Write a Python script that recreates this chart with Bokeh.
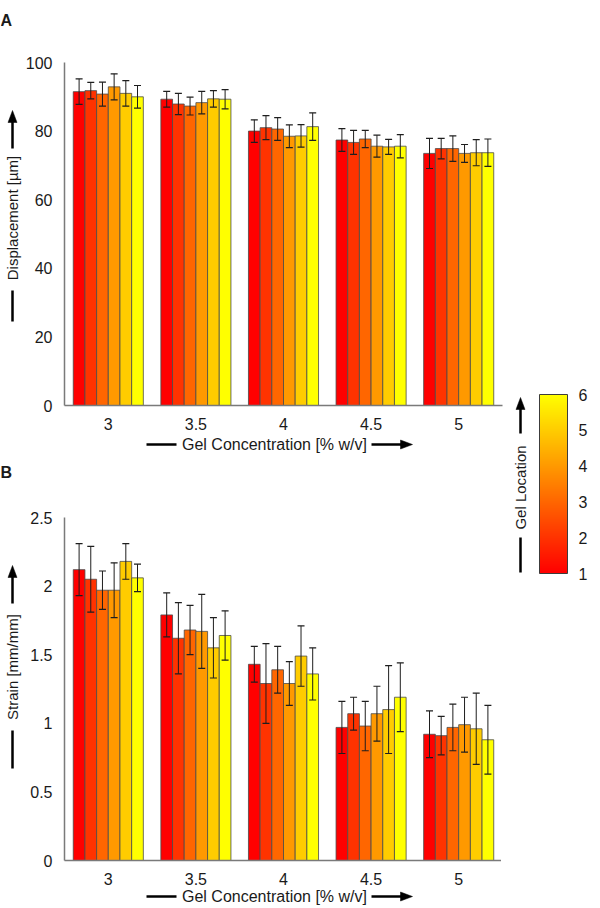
import math
from bokeh.plotting import figure
from bokeh.models import (ColumnDataSource, FactorRange, Range1d, FixedTicker,
                          NumeralTickFormatter, Whisker, TeeHead, ColorBar,
                          LinearColorMapper)
from bokeh.transform import dodge
from bokeh.layouts import row, column
from bokeh.core.properties import value
from bokeh.embed import file_html
from bokeh.resources import INLINE

# ---------------- data ----------------
conc = ["3", "3.5", "4", "4.5", "5"]          # gel concentration [% w/v]
locations = [1, 2, 3, 4, 5, 6]                 # gel location

disp_loc1 = [91.5, 89.3, 80.0, 77.4, 73.5]
disp_loc2 = [91.8, 87.9, 81.0, 76.7, 74.9]
disp_loc3 = [90.8, 87.3, 80.6, 77.7, 74.9]
disp_loc4 = [92.9, 88.3, 78.5, 75.6, 73.5]
disp_loc5 = [91.0, 89.4, 78.6, 75.4, 73.7]
disp_loc6 = [90.0, 89.3, 81.3, 75.6, 73.7]
disp_err1 = [3.7, 2.3, 3.3, 3.3, 4.4]
disp_err2 = [2.4, 3.1, 3.5, 3.5, 3.0]
disp_err3 = [3.5, 2.6, 3.3, 2.5, 3.7]
disp_err4 = [3.8, 3.3, 3.3, 3.2, 2.6]
disp_err5 = [3.7, 2.4, 3.3, 2.2, 3.8]
disp_err6 = [3.3, 2.8, 4.0, 3.4, 4.0]

strain_loc1 = [2.12, 1.79, 1.43, 0.97, 0.92]
strain_loc2 = [2.05, 1.62, 1.29, 1.07, 0.91]
strain_loc3 = [1.97, 1.68, 1.39, 0.98, 0.97]
strain_loc4 = [1.97, 1.67, 1.29, 1.07, 0.99]
strain_loc5 = [2.18, 1.55, 1.49, 1.10, 0.96]
strain_loc6 = [2.06, 1.64, 1.36, 1.19, 0.88]
strain_err1 = [0.19, 0.16, 0.13, 0.19, 0.17]
strain_err2 = [0.24, 0.26, 0.29, 0.12, 0.14]
strain_err3 = [0.14, 0.18, 0.17, 0.18, 0.17]
strain_err4 = [0.20, 0.27, 0.16, 0.20, 0.20]
strain_err5 = [0.13, 0.22, 0.22, 0.32, 0.26]
strain_err6 = [0.10, 0.18, 0.19, 0.25, 0.25]

disp_ticks = [0, 20, 40, 60, 80, 100]
strain_ticks = [0, 0.5, 1, 1.5, 2, 2.5]
cb_ticks = [1, 2, 3, 4, 5, 6]

# ---------------- style ----------------
FONT = "Liberation Sans"
TXT = "#1a1a1a"
loc_colors = ["#ff0000", "#ff3300", "#ff6600", "#ff9900", "#ffcc00", "#ffff00"]
autumn = ["#ff%02x00" % i for i in range(256)]

TOTAL_H = 905
BL, FW, BR = 36, 438, 4          # chart borders / frame width


def bar_chart(vals, errs, y_end, y_ticks, border_top):
    data = {"conc": conc}
    for i, (v, e) in enumerate(zip(vals, errs)):
        data[f"v{i}"] = v
        data[f"hi{i}"] = [a + b for a, b in zip(v, e)]
        data[f"lo{i}"] = [a - b for a, b in zip(v, e)]
    src = ColumnDataSource(data)
    p = figure(x_range=FactorRange(*conc), y_range=Range1d(0, y_end),
               frame_width=FW, frame_height=343,
               min_border_left=BL, min_border_right=BR,
               min_border_top=border_top, min_border_bottom=26,
               output_backend="svg", toolbar_location=None, tools="", title=None)
    n = len(vals)
    group = 0.8
    bw = group / n
    for i in range(n):
        off = -group / 2 + bw * (i + 0.5)
        p.vbar(x=dodge("conc", off, range=p.x_range), top=f"v{i}", width=bw,
               source=src, fill_color=loc_colors[i], line_color="#4a4a4a",
               line_width=0.8)
        w = Whisker(source=src, base=dodge("conc", off, range=p.x_range),
                    upper=f"hi{i}", lower=f"lo{i}", line_color="#1e1e1e",
                    line_width=1, level="overlay",
                    upper_head=TeeHead(size=7, line_color="#1e1e1e", line_width=1.2),
                    lower_head=TeeHead(size=7, line_color="#1e1e1e", line_width=1.2))
        p.add_layout(w)
    p.xgrid.visible = False
    p.ygrid.visible = False
    p.outline_line_color = None
    p.yaxis.ticker = FixedTicker(ticks=y_ticks)
    p.yaxis.formatter = NumeralTickFormatter(format="0.[0]")
    for ax in p.axis:
        ax.axis_line_color = "#7a7a7a"
        ax.axis_line_width = 1.5
        ax.major_tick_line_color = None
        ax.minor_tick_line_color = None
        ax.major_label_text_font = FONT
        ax.major_label_text_font_size = "16px"
        ax.major_label_text_color = TXT
        ax.major_label_standoff = 6
    return p


def deco_fig(w, h):
    # whole canvas is the frame; coordinates are pixels from the top-left
    p = figure(width=w, height=h, x_range=Range1d(0, w), y_range=Range1d(h, 0),
               min_border=0, x_axis_type=None, y_axis_type=None,
               output_backend="svg", toolbar_location=None, tools="", title=None)
    p.outline_line_color = None
    return p


def xlab_fig(h):
    # same horizontal borders as the charts, so frame alignment is a no-op;
    # x coordinates are page pixels (frame = 66..504)
    p = figure(frame_width=FW, frame_height=h, min_border_left=BL,
               min_border_right=BR, min_border_top=0, min_border_bottom=0,
               x_range=Range1d(66, 66 + FW), y_range=Range1d(h, 0),
               x_axis_type=None, y_axis_type=None,
               output_backend="svg", toolbar_location=None, tools="", title=None)
    p.outline_line_color = None
    return p


def up_arrow(p, x, y_tip, y_end):
    p.segment(x0=[x], y0=[y_tip + 10], x1=[x], y1=[y_end], line_color="black",
              line_width=2.5)
    p.patches(xs=[[x - 4.5, x + 4.5, x]], ys=[[y_tip + 12, y_tip + 12, y_tip]],
              fill_color="black", line_color="black", line_width=0.5)


def right_arrow(p, x_start, x_tip, y):
    p.segment(x0=[x_start], y0=[y], x1=[x_tip - 10], y1=[y], line_color="black",
              line_width=2.5)
    p.patches(xs=[[x_tip - 12, x_tip - 12, x_tip]], ys=[[y - 4.5, y + 4.5, y]],
              fill_color="black", line_color="black", line_width=0.5)


def vline(p, x, y0, y1):
    p.segment(x0=[x], y0=[y0], x1=[x], y1=[y1], line_color="black", line_width=2.5)


def hline(p, x0, x1, y):
    p.segment(x0=[x0], y0=[y], x1=[x1], y1=[y], line_color="black", line_width=2.5)


def vtext(p, x, y, t):
    p.text(x=[x], y=[y], text=[t], angle=math.pi / 2, text_font=value(FONT),
           text_font_size="15px", text_align="center", text_baseline="middle",
           text_color=TXT)


def htext(p, x, y, t, size="16px", style="normal", align="center"):
    p.text(x=[x], y=[y], text=[t], text_font=value(FONT), text_font_size=size,
           text_font_style=style, text_align=align, text_baseline="middle",
           text_color=TXT)


# ---------------- charts ----------------
chartA = bar_chart([disp_loc1, disp_loc2, disp_loc3, disp_loc4, disp_loc5, disp_loc6],
                   [disp_err1, disp_err2, disp_err3, disp_err4, disp_err5, disp_err6],
                   100, disp_ticks, 62)
chartB = bar_chart([strain_loc1, strain_loc2, strain_loc3, strain_loc4, strain_loc5, strain_loc6],
                   [strain_err1, strain_err2, strain_err3, strain_err4, strain_err5, strain_err6],
                   2.5, strain_ticks, 64)

# x-axis titles with line and arrow
xlabA = xlab_fig(21)
hline(xlabA, 148, 178, 12)
htext(xlabA, 276, 12, "Gel Concentration [% w/v]")
right_arrow(xlabA, 373, 414, 12)

xlabB = xlab_fig(20)
hline(xlabB, 148, 178, 9)
htext(xlabB, 276, 9, "Gel Concentration [% w/v]")
right_arrow(xlabB, 373, 414, 9)

# left strip: panel letters and y-axis titles (y = page pixels)
ylab = deco_fig(22, TOTAL_H)
htext(ylab, 0, 20, "A", size="16px", style="bold", align="left")
up_arrow(ylab, 12, 110, 148)
vtext(ylab, 12, 217.5, "Displacement [µm]")
vline(ylab, 12, 290, 321)
htext(ylab, 0, 472, "B", size="16px", style="bold", align="left")
up_arrow(ylab, 12, 565, 603)
vtext(ylab, 12, 666.5, "Strain [mm/mm]")
vline(ylab, 12, 730, 768)

# ---------------- colour bar ----------------
cb_fig = deco_fig(84, TOTAL_H)
mapper = LinearColorMapper(palette=autumn, low=min(locations), high=max(locations))
cb = ColorBar(color_mapper=mapper, ticker=FixedTicker(ticks=cb_ticks),
              orientation="vertical", width=28, height=179,
              location=(33, TOTAL_H - 573),
              padding=0, margin=0, border_line_color=None,
              background_fill_color=None, bar_line_color="#3c3c3c",
              bar_line_width=1, major_tick_line_color=None,
              minor_tick_line_color=None, label_standoff=11,
              major_label_text_font=FONT, major_label_text_font_size="16px",
              major_label_text_color=TXT)
cb_fig.add_layout(cb, "center")
up_arrow(cb_fig, 14, 397, 433)
vtext(cb_fig, 14, 487, "Gel Location")
vline(cb_fig, 14, 537, 572)

middle = column(chartA, xlabA, chartB, xlabB)
layout = row(ylab, middle, cb_fig)

open("out.html", "w").write(file_html(layout, INLINE))
